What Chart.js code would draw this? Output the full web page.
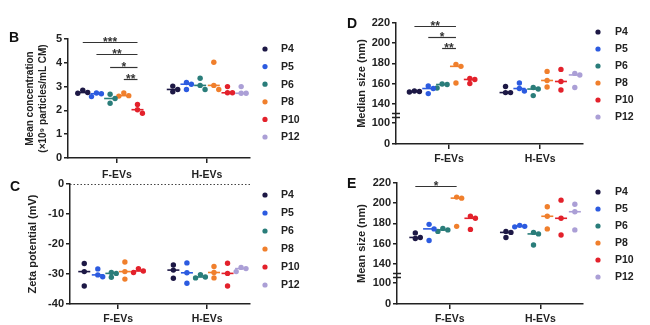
<!DOCTYPE html>
<html>
<head>
<meta charset="utf-8">
<script src="https://cdn.jsdelivr.net/npm/chart.js@4.4.1/dist/chart.umd.min.js"></script>
<style>
  html, body { margin: 0; padding: 0; background: #fff; width: 650px; height: 325px; overflow: hidden; position: relative; }
  canvas.panel { position: absolute; }
  .tag { position: absolute; font: bold 14px "Liberation Sans", Arial, sans-serif; line-height: 14px; color: #111; }
</style>
</head>
<body>
<canvas id="chartB" class="panel" style="left:0;top:0;width:325px;height:185px" width="325" height="185"></canvas>
<canvas id="chartC" class="panel" style="left:0;top:170px;width:325px;height:155px" width="325" height="155"></canvas>
<canvas id="chartD" class="panel" style="left:325px;top:0;width:325px;height:170px" width="325" height="170"></canvas>
<canvas id="chartE" class="panel" style="left:325px;top:160px;width:325px;height:170px" width="325" height="170"></canvas>
<div class="tag" style="left:9px;top:30px">B</div>
<div class="tag" style="left:10px;top:179px">C</div>
<div class="tag" style="left:347px;top:16px">D</div>
<div class="tag" style="left:347px;top:176px">E</div>
<script>
// ---- categories ----
const GROUPS = ['F-EVs', 'H-EVs'];
const PASSAGES = ['P4', 'P5', 'P6', 'P8', 'P10', 'P12'];
const COLORS = ['#1d1845', '#2c5be0', '#2a7d7a', '#f07f2c', '#e3212b', '#ab9fd6'];

// ---- tick labels ----
const CONC_TICKS = [0, 1, 2, 3, 4, 5];
const ZETA_TICKS = [-40, -30, -20, -10, 0];
const SIZE_TICKS = [0, 100, 140, 160, 180, 200, 220];

// ---- mean concentration (x10^9 particles/mL CM), three replicates per passage ----
const concF = [[2.85, 2.75, 2.72], [2.73, 2.70, 2.58], [2.68, 2.50, 2.30], [2.73, 2.62, 2.60], [2.25, 2.03, 1.88], []];
const concH = [[3.02, 2.88, 2.78], [3.17, 3.10, 2.88], [3.35, 3.05, 2.88], [4.02, 3.05, 2.88], [3.00, 2.74, 2.74], [3.00, 2.72, 2.72]];

// ---- zeta potential (mV) ----
const zetaF = [[-26.5, -29.2, -34.0], [-28.3, -30.3, -30.9], [-29.5, -29.8, -31.1], [-26.0, -29.2, -31.7], [-28.2, -29.0, -29.5], []];
const zetaH = [[-27.0, -28.7, -31.4], [-26.3, -29.6, -33.1], [-30.2, -31.0, -31.3], [-27.5, -29.5, -31.3], [-26.4, -29.8, -34.0], [-27.8, -28.2, -29.2]];

// ---- median size (nm) ----
const medSizeF = [[152.5, 152, 151.5], [157.5, 155, 150], [159.5, 159, 155.5], [179, 177, 160.5], [165, 164, 160], []];
const medSizeH = [[157, 151, 151], [160.5, 155, 152.5], [156, 154.5, 148], [172, 163, 156.5], [174, 162, 153.5], [170, 168.5, 156]];

// ---- mean size (nm) ----
const meanSizeF = [[170.5, 166, 165], [179, 174.5, 163], [175, 173.5, 172], [206, 205, 177], [187, 185, 174], []];
const meanSizeH = [[172, 171, 166], [178, 177, 176.5], [171, 169.5, 158.5], [196.5, 187, 174.5], [203, 185, 168.5], [199, 191.5, 173.5]];

// ---- significance bars within F-EVs: [from passage, to passage, height, stars] ----
const concSig = [[0, 4, 4.87, '***'], [1, 4, 4.37, '**'], [2, 4, 3.82, '*'], [3, 4, 3.32, '**']];
const medSizeSig = [[0, 3, 217, '**'], [1, 3, 206, '*'], [2, 3, 195.3, '**']];
const meanSizeSig = [[0, 3, 217, '*']];

const FONT = '"Liberation Sans", Arial, Helvetica, sans-serif';
const INK = '#222';
const CLUSTER_STEP = 0.152;
const JITTER = 0.055;

// Broken size axis: the 0-100 segment is compressed below the break, values from 140 up are linear.
function sizeToAxis(v) {
  return v >= 140 ? v : 100 + v * 0.212;
}
const identity = v => v;

function clusterX(g, k) { return g + 1 + (k - 2.5) * CLUSTER_STEP; }

function median(vals) {
  const s = [...vals].sort((a, b) => a - b);
  const m = Math.floor(s.length / 2);
  return s.length % 2 ? s[m] : (s[m - 1] + s[m]) / 2;
}

// Points that would overlap vertically are pushed sideways into neighbouring slots.
function spreadOffsets(vals, thr) {
  const order = vals.map((v, i) => i).sort((a, b) => vals[b] - vals[a]);
  const placed = [];
  const offs = new Array(vals.length).fill(0);
  const slots = [0, 1, -1, 2, -2];
  order.forEach(i => {
    for (const s of slots) {
      if (!placed.some(p => p.s === s && Math.abs(p.v - vals[i]) < thr)) {
        offs[i] = s; placed.push({ s, v: vals[i] }); break;
      }
    }
  });
  return offs;
}

function buildDatasets(F, H, thr, toAxis) {
  const points = [], medians = [];
  PASSAGES.forEach((p, k) => {
    const pts = [], meds = [];
    [F[k], H[k]].forEach((vals, g) => {
      if (!vals.length) return;
      const offs = spreadOffsets(vals, thr);
      vals.forEach((v, i) => pts.push({ x: clusterX(g, k) + offs[i] * JITTER, y: toAxis(v) }));
      meds.push({ x: clusterX(g, k), y: toAxis(median(vals)) });
    });
    points.push({ label: p, data: pts, backgroundColor: COLORS[k], borderWidth: 0, pointRadius: 2.7, pointHoverRadius: 2.7 });
    medians.push({ label: p + ' median', isMedian: true, data: meds, pointStyle: 'line', pointRadius: 6, pointHoverRadius: 6, borderColor: COLORS[k], backgroundColor: COLORS[k], borderWidth: 1.6 });
  });
  return points.concat(medians);
}

function sideLegend(o) {
  return {
    id: 'sideLegend',
    afterDraw(chart) {
      const { ctx, chartArea } = chart;
      ctx.save();
      ctx.font = 'bold 10.5px ' + FONT;
      ctx.textBaseline = 'middle';
      ctx.textAlign = 'left';
      chart.data.datasets.filter(d => !d.isMedian).forEach((d, i) => {
        const y = chartArea.top + o.y0 + i * o.dy;
        ctx.fillStyle = d.backgroundColor;
        ctx.beginPath();
        ctx.arc(chartArea.right + o.dot, y, 2.6, 0, Math.PI * 2);
        ctx.fill();
        ctx.fillStyle = INK;
        ctx.fillText(d.label, chartArea.right + o.text, y + 0.5);
      });
      ctx.restore();
    }
  };
}

function sigBars(items, toAxis) {
  return {
    id: 'sigBars',
    afterDatasetsDraw(chart) {
      const { ctx } = chart;
      const xs = chart.scales.x, ys = chart.scales.y;
      ctx.save();
      ctx.strokeStyle = '#333';
      ctx.lineWidth = 1.2;
      ctx.fillStyle = '#333';
      ctx.font = 'bold 12px ' + FONT;
      ctx.textAlign = 'center';
      ctx.textBaseline = 'alphabetic';
      items.forEach(([a, b, v, label]) => {
        const x1 = xs.getPixelForValue(clusterX(0, a));
        const x2 = xs.getPixelForValue(clusterX(0, b));
        const y = Math.round(ys.getPixelForValue(toAxis(v))) + 0.5;
        ctx.beginPath(); ctx.moveTo(x1, y); ctx.lineTo(x2, y); ctx.stroke();
        ctx.fillText(label, (x1 + x2) / 2, y + 3);
      });
      ctx.restore();
    }
  };
}

function zeroLine(value) {
  return {
    id: 'zeroLine',
    beforeDatasetsDraw(chart) {
      const { ctx, chartArea } = chart;
      const y = Math.round(chart.scales.y.getPixelForValue(value)) + 0.5;
      ctx.save();
      ctx.strokeStyle = '#444';
      ctx.lineWidth = 1.2;
      ctx.setLineDash([1.5, 2]);
      ctx.beginPath(); ctx.moveTo(chartArea.left, y); ctx.lineTo(chartArea.right, y); ctx.stroke();
      ctx.restore();
    }
  };
}

function axisBreak(lo, hi) {
  return {
    id: 'axisBreak',
    afterDraw(chart) {
      const { ctx, chartArea } = chart;
      const ys = chart.scales.y;
      const x0 = chartArea.left;
      ctx.save();
      ctx.strokeStyle = INK;
      ctx.lineWidth = 1.5;
      [hi, lo].forEach(v => {
        const y = Math.round(ys.getPixelForValue(v)) + 0.5;
        ctx.beginPath(); ctx.moveTo(x0 - 4, y); ctx.lineTo(x0 + 4, y); ctx.stroke();
      });
      ctx.restore();
    }
  };
}

function makeChart(id, cfg) {
  const tickFont = { family: FONT, size: 11, weight: 'bold' };
  return new Chart(document.getElementById(id), {
    type: 'scatter',
    data: { datasets: cfg.datasets },
    options: {
      responsive: false,
      maintainAspectRatio: false,
      devicePixelRatio: 1,
      animation: false,
      events: [],
      layout: { padding: cfg.padding },
      plugins: { legend: { display: false }, tooltip: { enabled: false } },
      scales: {
        x: {
          type: 'linear', min: cfg.xMin, max: cfg.xMax,
          afterBuildTicks: s => { s.ticks = GROUPS.map((g, i) => ({ value: i + 1 })); },
          afterFit: s => { s.height = 22; },
          ticks: { callback: (v, i) => GROUPS[i], font: { family: FONT, size: 10.5, weight: 'bold' }, color: INK, padding: cfg.xPad, autoSkip: false, maxRotation: 0 },
          grid: { display: true, drawOnChartArea: false, drawTicks: true, tickLength: 5, tickColor: INK, tickWidth: 1.5, lineWidth: 1.5, color: INK },
          border: { display: true, color: INK, width: 1.5 }
        },
        y: {
          type: 'linear', min: cfg.yMin, max: cfg.yMax,
          afterBuildTicks: s => { s.ticks = cfg.ticks.map(v => ({ value: cfg.toAxis(v) })); },
          afterFit: s => { s.width = cfg.yWidth; },
          ticks: { callback: (v, i) => String(cfg.ticks[i]), font: tickFont, color: INK, padding: 2, autoSkip: false },
          grid: { display: true, drawOnChartArea: false, drawTicks: true, tickLength: 4, tickColor: INK, tickWidth: 1.5, lineWidth: 1.5, color: INK },
          border: { display: true, color: INK, width: 1.5 },
          title: { display: true, text: cfg.title, color: INK, font: { family: FONT, size: cfg.titleSize, weight: 'bold', lineHeight: 1.3 }, padding: { top: cfg.titlePad, bottom: 0 } }
        }
      }
    },
    plugins: cfg.plugins
  });
}

// B: mean concentration
makeChart('chartB', {
  datasets: buildDatasets(concF, concH, 0.2, identity),
  padding: { left: 20, top: 39, right: 75, bottom: 5 },
  xMin: 0.456, xMax: 2.478, yMin: 0, yMax: 5, xPad: 6,
  ticks: CONC_TICKS, toAxis: identity, yWidth: 48,
  title: ['Mean concentration', '(×10⁹ particles/mL CM)'], titleSize: 10, titlePad: 3.5,
  plugins: [sigBars(concSig, identity), sideLegend({ y0: 10, dy: 17.6, dot: 15, text: 31 })]
});

// C: zeta potential
makeChart('chartC', {
  datasets: buildDatasets(zetaF, zetaH, 1.6, identity),
  padding: { left: 22, top: 14, right: 75, bottom: -1 },
  xMin: 0.46, xMax: 2.48, yMin: -40, yMax: 0, xPad: 4,
  ticks: ZETA_TICKS, toAxis: identity, yWidth: 48,
  title: 'Zeta potential (mV)', titleSize: 11, titlePad: 4,
  plugins: [zeroLine(0), sideLegend({ y0: 11, dy: 18, dot: 15, text: 31 })]
});

// D: median size
makeChart('chartD', {
  datasets: buildDatasets(medSizeF, medSizeH, 4.8, sizeToAxis),
  padding: { left: 26, top: 23, right: 67, bottom: 4 },
  xMin: 0.418, xMax: 2.47, yMin: 100, yMax: 220, xPad: 4,
  ticks: SIZE_TICKS, toAxis: sizeToAxis, yWidth: 45,
  title: 'Median size (nm)', titleSize: 11, titlePad: 4,
  plugins: [sigBars(medSizeSig, sizeToAxis), axisBreak(127.2, 131.1), sideLegend({ y0: 9, dy: 17, dot: 15, text: 32 })]
});

// E: mean size
makeChart('chartE', {
  datasets: buildDatasets(meanSizeF, meanSizeH, 4.8, sizeToAxis),
  padding: { left: 26, top: 23, right: 67, bottom: 4 },
  xMin: 0.418, xMax: 2.47, yMin: 100, yMax: 220, xPad: 4,
  ticks: SIZE_TICKS, toAxis: sizeToAxis, yWidth: 46,
  title: 'Mean size (nm)', titleSize: 11, titlePad: 4,
  plugins: [sigBars(meanSizeSig, sizeToAxis), axisBreak(127.2, 131.1), sideLegend({ y0: 9, dy: 17, dot: 15, text: 32 })]
});
</script>
</body>
</html>
